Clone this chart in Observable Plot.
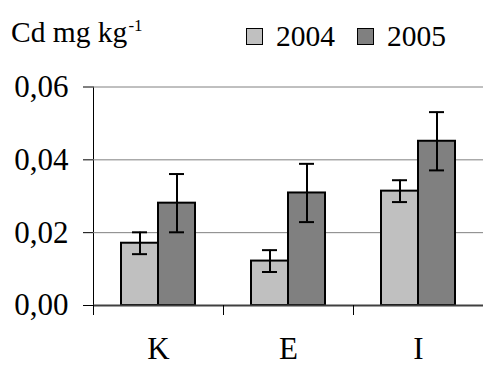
<!DOCTYPE html>
<html>
<head>
<meta charset="utf-8">
<script src="https://cdn.jsdelivr.net/npm/d3@7"></script>
<script src="https://cdn.jsdelivr.net/npm/@observablehq/plot@0.6"></script>
<style>
  html, body { margin: 0; padding: 0; background: white; font-family: 'Liberation Serif'; }
  #wrap { width: 483px; height: 365px; position: relative; overflow: hidden; font-family: 'Liberation Serif'; color: black; }
  #hdr { position: relative; height: 60px; }
  #title { position: absolute; left: 11px; top: 18px; font-size: 29.5px; line-height: 29px; white-space: nowrap; }
  #title sup { font-size: 17px; vertical-align: 11px; line-height: 0; margin-left: 1px; }
  .leg { position: absolute; top: 22px; font-size: 29.5px; line-height: 29px; white-space: nowrap; display: flex; align-items: center; }
  .sw { width: 15px; height: 15px; border: 1px solid black; margin-right: 13px; }
  #chart svg text { font-family: 'Liberation Serif'; }
</style>
</head>
<body>
<div id="wrap">
  <div id="hdr">
    <div id="title">Cd mg kg<sup>-1</sup></div>
  </div>
  <div id="chart"></div>
</div>
<script>
const sites = ["K", "E", "I"];
const years = ["2004", "2005"];
const mean2004 = [0.0171, 0.0122, 0.0314];
const mean2005 = [0.0281, 0.0309, 0.0451];
const err2004 = [0.003, 0.003, 0.003];
const err2005 = [0.008, 0.008, 0.008];
const yTicks = [0, 0.02, 0.04, 0.06];
const colors = ["#c0c0c0", "#808080"];
const legendX = [246, 357];

const rows = [];
sites.forEach((s, i) => {
  rows.push({site: s, year: years[0], value: mean2004[i], lo: mean2004[i] - err2004[i], hi: mean2004[i] + err2004[i]});
  rows.push({site: s, year: years[1], value: mean2005[i], lo: mean2005[i] - err2005[i], hi: mean2005[i] + err2005[i]});
});

// legend
const hdr = document.getElementById("hdr");
years.forEach((y, i) => {
  const d = document.createElement("div");
  d.className = "leg";
  d.style.left = legendX[i] + "px";
  const sw = document.createElement("span");
  sw.className = "sw";
  sw.style.background = colors[i];
  const t = document.createElement("span");
  t.textContent = y;
  d.appendChild(sw); d.appendChild(t);
  hdr.appendChild(d);
});

const W = 483, H = 305, mL = 93, mR = 0, mT = 26.5, mB = 60;
const fxBand = (W - mL - mR) / sites.length;
const fmt = d => d3.format(".2f")(d).replace(".", ",");

const chart = Plot.plot({
  width: W,
  height: H,
  marginLeft: mL,
  marginRight: mR,
  marginTop: mT,
  marginBottom: mB,
  style: {fontFamily: "'Liberation Serif'", fontSize: "31px", background: "white", color: "black", overflow: "visible"},
  fx: {domain: sites, padding: 0, axis: "bottom", tickSize: 0, tickPadding: 31, label: null},
  x: {domain: years, paddingInner: 0, paddingOuter: 0.75, axis: null},
  y: {domain: [0, 0.06], ticks: yTicks, tickFormat: fmt, tickSize: 10, tickPadding: 15, line: true, label: null},
  color: {domain: years, range: colors},
  marks: [
    Plot.ruleY(yTicks.slice(1), {stroke: "#808080", strokeWidth: 1}),
    Plot.barY(rows, {fx: "site", x: "year", y: "value", fill: "year", stroke: "black", strokeWidth: 2}),
    Plot.ruleX(rows, {fx: "site", x: "year", y1: "lo", y2: "hi", stroke: "black", strokeWidth: 2}),
    Plot.tickY(rows, {fx: "site", x: "year", y: "lo", stroke: "black", strokeWidth: 2, insetLeft: 11, insetRight: 11}),
    Plot.tickY(rows, {fx: "site", x: "year", y: "hi", stroke: "black", strokeWidth: 2, insetLeft: 11, insetRight: 11}),
    Plot.ruleY([0], {stroke: "#404040", strokeWidth: 2}),
    Plot.ruleX([0], {x: null, y: 0, dx: -fxBand / 2, insetBottom: -10, stroke: "black", strokeWidth: 1})
  ]
});
document.getElementById("chart").appendChild(chart);
</script>
</body>
</html>
